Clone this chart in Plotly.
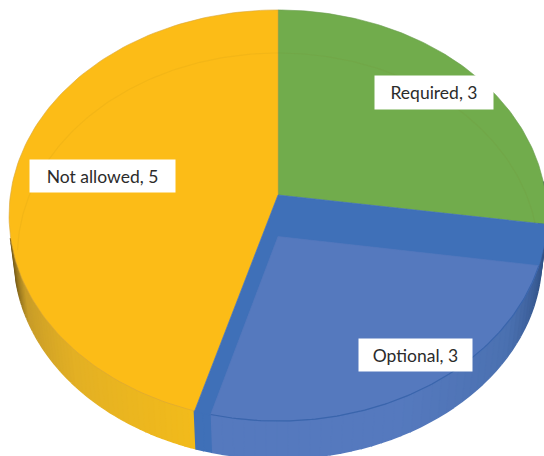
import numpy as np
import plotly.graph_objects as go

# Survey answers shown as a tilted pie with thickness
categories = ["Required", "Optional", "Not allowed"]
values = [3, 3, 5]

GREEN = "#71AC4C"
YELLOW = "#FCBC17"
BLUE_BAND = "#3F70B8"
BLUE_FACE = "#5579BE"

# Projection of the unit disc onto the page
CX, CY, AX, BY, PERSP = 278.0, 195.0, 267.6, 203.5, 0.0997
DEPTH, BASE_SCALE = 42.0, 0.98
INSET = 0.2  # the blue face sits this far toward the viewer inside its band


def project(u, v, base=False):
    u, v = np.asarray(u, float), np.asarray(v, float)
    w = 1 + PERSP * v
    x, y = AX * u / w, -BY * v / w
    if base:
        return CX + BASE_SCALE * x, CY + DEPTH + BASE_SCALE * y
    return CX + x, CY + y


def clock(deg):
    t = np.radians(deg)
    return np.sin(t), np.cos(t)


def ray_to_circle(deg, v0):
    """Where a ray from (0, v0) at a clock bearing meets the unit circle."""
    du, dv = clock(deg)
    b = v0 * dv
    return -b + np.sqrt(b * b - v0 * v0 + 1)


def mix(c1, c2, f):
    a = [int(c1[i:i + 2], 16) for i in (1, 3, 5)]
    b = [int(c2[i:i + 2], 16) for i in (1, 3, 5)]
    f = min(max(f, 0.0), 1.0)
    return "rgb({},{},{})".format(*[round(p + (q - p) * f) for p, q in zip(a, b)])


fractions = np.cumsum(values) / np.sum(values) * 360.0
a_req, a_opt = fractions[0], fractions[1]

fig = go.Figure()


def polygon(x, y, color, line=None, width=0.6):
    fig.add_trace(go.Scatter(
        x=x, y=y, mode="lines", fill="toself", fillcolor=color,
        line=dict(color=line or color, width=width), hoverinfo="skip", showlegend=False,
    ))


def wall(a0, a1, colour_at, steps):
    # Thin overlapping quads with same-colour outlines so the gradient has no seams
    edges = np.linspace(a0, a1, steps + 1)
    for s, e in zip(edges[:-1], edges[1:]):
        arc = np.linspace(s, e, 4)
        u, v = clock(arc)
        tx, ty = project(u, v)
        bx, by = project(u, v, base=True)
        polygon(np.r_[tx, bx[::-1]], np.r_[ty, by[::-1]], colour_at((s + e) / 2), width=2)


def sector(a0, a1, apex_v=0.0, n=120):
    arc = np.linspace(a0, a1, n)
    u, v = clock(arc)
    return project(np.r_[0, u, 0], np.r_[apex_v, v, apex_v])


# Start and end bearings of the blue face, seen from the disc centre
r_right = ray_to_circle(a_req, -INSET)
r_left = ray_to_circle(a_opt, -INSET)
ur, vr = clock(a_req)
ul, vl = clock(a_opt)
face_a0 = np.degrees(np.arctan2(r_right * ur, -INSET + r_right * vr)) % 360
face_a1 = np.degrees(np.arctan2(r_left * ul, -INSET + r_left * vl)) % 360


def yellow_shade(a):
    # Bright at the slice boundary, falling to brown at the far left
    if a < 225:
        return mix("#F2BB1B", "#E3B024", (a - a_opt) / (225 - a_opt))
    if a < 245:
        return mix("#E3B024", "#C89C28", (a - 225) / 20)
    return mix("#C89C28", "#6B5216", (a - 245) / 13)


def blue_shade(a):
    # Darkest at the right, settling to the face colour toward the front
    if a < 125:
        return mix("#1F3B68", "#4A70B0", (a - a_req + 12) / (125 - a_req + 12))
    return mix("#4A70B0", BLUE_FACE, (a - 125) / 30)


# Side walls: drawn back to front, from the outer ends toward the slice boundary
wall(258, a_opt, yellow_shade, 50)
wall(a_req - 12, face_a1, blue_shade, 50)
wall(face_a1, a_opt, lambda a: BLUE_BAND, 2)

# Top faces
for (a0, a1), color, edge in (
    ((0, a_req), GREEN, "#6C9E50"),
    ((a_opt, 360), YELLOW, "#D9A63A"),
):
    x, y = sector(a0, a1)
    polygon(x, y, color, edge)

# Faint ring left across the top faces by the shape underneath
theta = np.linspace(0, 2 * np.pi, 400)
ru, rv = 0.95 * np.sin(theta), -INSET + 0.95 * np.cos(theta)
rx, ry = project(ru, rv)
keep = ru ** 2 + rv ** 2 < 0.97
fig.add_trace(go.Scatter(
    x=np.where(keep, rx, np.nan), y=np.where(keep, ry, np.nan), mode="lines",
    line=dict(color="rgba(130,110,30,0.07)", width=1.2),
    hoverinfo="skip", showlegend=False,
))

# Blue slice: darker band with the lighter inset face on top
x, y = sector(a_req, a_opt)
polygon(x, y, BLUE_BAND)
arc_u, arc_v = clock(np.linspace(face_a0, face_a1, 120))
fx, fy = project(np.r_[0, arc_u, 0], np.r_[-INSET, arc_v, -INSET])
polygon(fx, fy, BLUE_FACE)
rim_x, rim_y = project(arc_u, arc_v)
fig.add_trace(go.Scatter(
    x=rim_x, y=rim_y, mode="lines", line=dict(color="#3A65AC", width=1.2),
    hoverinfo="skip", showlegend=False,
))

# Data labels on white boxes
label_boxes = {"Required": (434, 92, 118, 33), "Optional": (415.5, 355, 113, 32), "Not allowed": (102.5, 176, 145, 32)}
for name, val in zip(categories, values):
    lx, ly, bw, bh = label_boxes[name]
    fig.add_annotation(
        x=lx, y=ly, xref="x", yref="y", text=f"{name}, {val}", showarrow=False,
        width=bw, height=bh, align="center", valign="middle", bgcolor="white", borderpad=0,
        font=dict(family="Lato, Carlito, sans-serif", size=17.5, color="#2B2B2B"),
    )

fig.update_xaxes(range=[0, 544], visible=False, fixedrange=True)
fig.update_yaxes(range=[456, 0], visible=False, fixedrange=True)
fig.update_layout(
    width=544, height=456, margin=dict(l=0, r=0, t=0, b=0),
    paper_bgcolor="white", plot_bgcolor="white", showlegend=False,
)
fig.write_html("out.html", config=dict(displayModeBar=False))
